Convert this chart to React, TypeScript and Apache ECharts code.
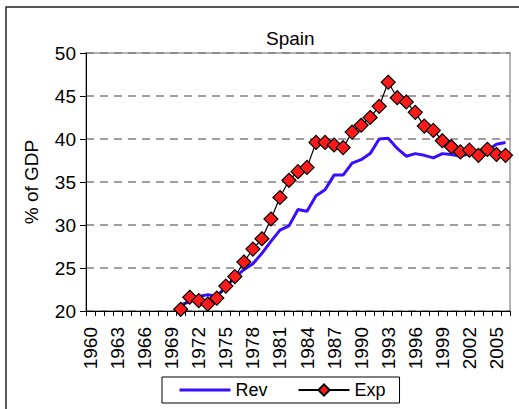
import React, { useEffect, useRef } from "react";
import * as echarts from "echarts";

const years: string[] = [];
for (let y = 1960; y <= 2006; y++) years.push(String(y));

// values from 1970 to 2006
const revValues = [
  20.7, 21.1, 21.7, 21.9, 21.7, 22.8, 23.9, 24.8, 25.5, 26.7,
  28.1, 29.4, 29.9, 31.8, 31.6, 33.4, 34.1, 35.8, 35.8, 37.2,
  37.6, 38.3, 40.0, 40.1, 38.9, 38.0, 38.3, 38.1, 37.8, 38.3,
  38.2, 38.0, 38.3, 38.5, 38.7, 39.4, 39.6,
];
const expValues = [
  20.2, 21.6, 21.2, 20.8, 21.5, 22.9, 24.0, 25.7, 27.2, 28.4,
  30.7, 33.2, 35.2, 36.2, 36.7, 39.6, 39.6, 39.3, 39.0, 40.8,
  41.6, 42.5, 43.8, 46.6, 44.8, 44.3, 43.1, 41.5, 41.0, 39.8,
  39.1, 38.5, 38.7, 38.1, 38.8, 38.2, 38.1,
];
const padding = new Array(10).fill(null);
const revData = [...padding, ...revValues];
const expData = [...padding, ...expValues];

const FONT = "Liberation Sans, Arial, sans-serif";

export default function App() {
  const ref = useRef<HTMLDivElement>(null);
  useEffect(() => {
    document.body.style.margin = "0";
    const chart = echarts.init(ref.current!, null, { renderer: "svg" });
    chart.setOption({
      animation: false,
      backgroundColor: "#fff",
      textStyle: { fontFamily: FONT },
      title: {
        text: "Spain",
        left: 261,
        top: 24,
        textStyle: { fontSize: 19, fontWeight: "normal", color: "#000", fontFamily: FONT },
      },
      graphic: [
        {
          type: "rect",
          shape: { x: 6, y: 7, width: 700, height: 600 },
          style: { fill: "none", stroke: "#222", lineWidth: 1.5 },
          silent: true,
        },
      ],
      grid: {
        left: 86,
        right: 9,
        top: 53,
        bottom: 98,
        show: true,
        borderColor: "#999",
        borderWidth: 1.5,
      },
      legend: {
        left: 162,
        top: 377,
        padding: [4, 14, 4, 16],
        itemGap: 30,
        itemWidth: 51,
        itemHeight: 14,
        borderColor: "#000",
        borderWidth: 1,
        backgroundColor: "#fff",
        textStyle: { fontSize: 18, color: "#000", fontFamily: FONT },
        data: [
          { name: "Rev", itemStyle: { opacity: 0 }, lineStyle: { width: 3 } },
          { name: "Exp" },
        ],
      },
      xAxis: {
        type: "category",
        data: years,
        boundaryGap: true,
        axisLine: { lineStyle: { color: "#000", width: 1 } },
        axisTick: { show: true, interval: 0, length: 5, lineStyle: { color: "#000" } },
        axisLabel: {
          interval: 2,
          rotate: 90,
          fontSize: 19,
          color: "#000",
          margin: 16,
          fontFamily: FONT,
        },
        splitLine: { show: false },
      },
      yAxis: {
        type: "value",
        min: 20,
        max: 50,
        interval: 5,
        name: "% of GDP",
        nameLocation: "middle",
        nameGap: 45,
        nameTextStyle: { fontSize: 19, color: "#000", fontFamily: FONT },
        axisLine: { show: true, lineStyle: { color: "#000", width: 1 } },
        axisTick: { show: true, length: 6, lineStyle: { color: "#000" } },
        axisLabel: { fontSize: 19, color: "#000", margin: 10, fontFamily: FONT },
        splitLine: {
          show: true,
          lineStyle: { color: "#808080", type: [8, 6], width: 1.5 },
        },
      },
      series: [
        {
          name: "Rev",
          type: "line",
          data: revData,
          showSymbol: false,
          symbol: "none",
          lineStyle: { color: "#3b0cff", width: 3 },
          itemStyle: { color: "#3b0cff" },
          z: 2,
        },
        {
          name: "Exp",
          type: "line",
          data: expData,
          symbol: "diamond",
          symbolSize: 14,
          showAllSymbol: true,
          lineStyle: { color: "#000", width: 1.2 },
          itemStyle: { color: "#ff1a1a", borderColor: "#000", borderWidth: 1.2 },
          z: 3,
        },
      ],
    });
    return () => chart.dispose();
  }, []);
  return (
    <div
      ref={ref}
      style={{ position: "absolute", left: 0, top: 0, width: 519, height: 409 }}
    />
  );
}
